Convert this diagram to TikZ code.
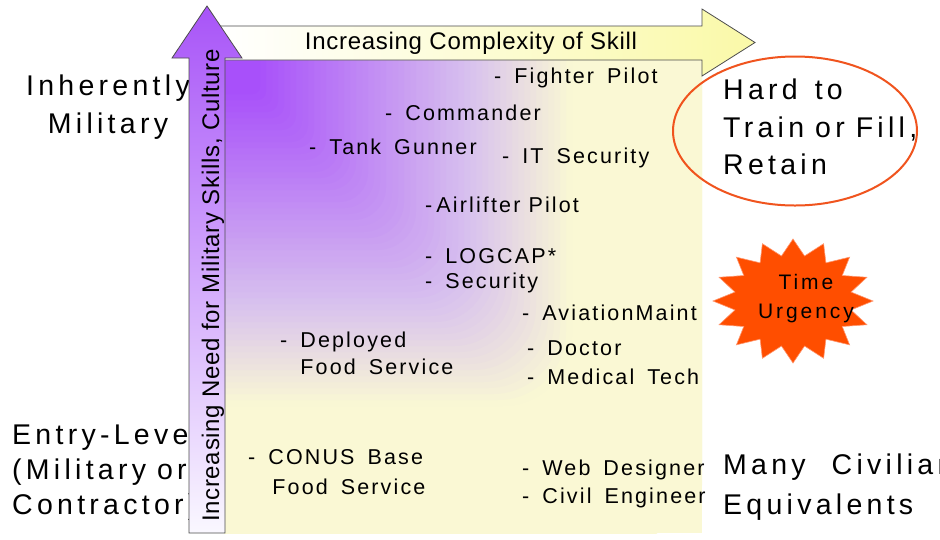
\documentclass[tikz,border=0pt]{standalone}
\usepackage{fontspec}
\setmainfont{Liberation Sans}
\newfontfamily\itemfont[LetterSpace=10]{Liberation Sans}
\newfontfamily\bigfont[LetterSpace=15]{Liberation Sans}
\newfontfamily\urgfont[LetterSpace=14]{Liberation Sans}
\newfontfamily\arrowfont[LetterSpace=3]{Liberation Sans}
\definecolor{milpurple}{RGB}{168,80,250}
\definecolor{millav}{RGB}{216,194,238}
\definecolor{milyellow}{RGB}{250,248,212}
\definecolor{arrowpurple}{RGB}{168,84,248}
\definecolor{arrowmid}{RGB}{206,168,246}
\definecolor{arrowpale}{RGB}{250,248,255}
\definecolor{arrowyellow}{RGB}{250,249,168}
\definecolor{urgent}{RGB}{255,78,0}
\definecolor{ringred}{RGB}{240,84,30}
\newcommand{\itemsize}{\itemfont\fontsize{21.5}{26.7}\selectfont\spaceskip=13pt plus 2pt\relax}
\newcommand{\tightsize}{\itemfont\fontsize{21.5}{26.7}\selectfont}
\newcommand{\bigsize}{\bigfont\fontsize{28.5}{38}\selectfont\spaceskip=11pt plus 2pt\relax}
\tikzstyle{item} = [anchor=west, inner sep=0, align=left, font=\itemsize]
\tikzstyle{tightitem} = [item, font=\tightsize]
\tikzstyle{sidelabel} = [inner sep=0, font=\bigsize]
\tikzstyle{arrowbox} = [draw=black!70, line width=0.8pt]

\begin{document}
\begin{tikzpicture}[x=1pt, y=-1pt]
\useasboundingbox (0,0) rectangle (940,539);
\fill[white] (0,0) rectangle (940,539);
\begin{scope}
\clip (224,58) rectangle (702,533);
\fill[milyellow] (224,58) rectangle (702,533);
\foreach \s in {486,480,...,6} {
  \pgfmathsetmacro\f{min(1,max(0,(\s-35)/315))}
  \pgfmathtruncatemacro\pone{100*min(1,\f/0.68)}
  \pgfmathtruncatemacro\ptwo{100*max(0,(\f-0.68)/0.32)}
  \pgfmathsetmacro\rr{0.2*\s}
  \colorlet{midband}{millav!\pone!milpurple}
  \fill[milyellow!\ptwo!midband, rounded corners=\rr pt] (224-\s,58-\s) rectangle (224+\s,58+\s);
}
\end{scope}
\node [item] (fighterpilot) at (494,78) {- Fighter Pilot};
\node [item] (commander) at (385,113) {- Commander};
\node [item] (tankgunner) at (309,147) {- Tank Gunner};
\node [item] (itsecurity) at (502,158) {- IT Security};
\node [tightitem] (airlifter) at (425,205) {-\hspace{4pt}Airlifter Pilot};
\node [item] (logcap) at (425,256) {- LOGCAP*};
\node [item] (security) at (425,283) {- Security};
\node [item] (aviation) at (522,313) {- AviationMaint};
\node [item] (deployed) at (280,353.5) {- Deployed\\\phantom{-} Food Service};
\node [item] (doctor) at (527,348) {- Doctor};
\node [item] (medicaltech) at (527,377) {- Medical Tech};
\node [item, font={\itemsize\baselineskip=30pt\relax}] (conusbase) at (248,472) {- CONUS Base\\\phantom{-} \hspace{4pt}Food Service};
\node [item] (webdesigner) at (522,470) {- Web Designer};
\node [item] (civilengineer) at (522,498) {- Civil Engineer};
\node [sidelabel, align=center] (inherently) at (108,107) {Inherently\\Military};
\node [sidelabel, anchor=west, align=left, font={\bigsize\baselineskip=35pt\relax}] (entrylevel) at (12,472) {Entry-Level\\(Military or\\Contractor)};
\path [arrowbox, left color=white, right color=arrowyellow] (220,26) -- (702,26) -- (702,9) -- (755,42.5) -- (702,76) -- (702,60) -- (220,60) -- cycle;
\node [font=\arrowfont\fontsize{24}{28}\selectfont, inner sep=0] (complexity) at (471,43) {Increasing Complexity of Skill};
\path [arrowbox, top color=arrowpurple, middle color=arrowmid, bottom color=arrowpale] (189,533) -- (189,58) -- (172,58) -- (207,6) -- (242,58) -- (225,58) -- (225,533) -- cycle;
\node [font=\arrowfont\fontsize{24}{28}\selectfont, inner sep=0, rotate=90] (militaryneed) at (213,285.5) {Increasing Need for Military Skills, Culture};
\draw [ringred, line width=2pt] (795,131) ellipse (122pt and 74.5pt);
\node [sidelabel, anchor=west, align=left, font={\bigsize\baselineskip=37.5pt\relax}] (hardtotrain) at (723,127) {Hard\hspace{6pt} to\\Train or Fill,\\Retain};
\node [sidelabel, anchor=west, align=left, font={\bigsize\baselineskip=40pt\relax}] (civilian) at (723,487) {Many\hspace{15pt} Civilian\\Equivalents};
\fill [urgent, draw={rgb,255:red,255;green,150;blue,110}, line width=0.6pt] (793,239) \foreach \i in {1,...,31} { -- ({793+80*(0.87+0.13*cos(180*\i))*cos(90+11.25*\i)}, {301-62*(0.87+0.13*cos(180*\i))*sin(90+11.25*\i)}) } -- cycle;
\node [align=center, inner sep=0, font=\urgfont\fontsize{21}{29}\selectfont] (timeurgency) at (806,298.5) {Time\\Urgency};
\end{tikzpicture}
\end{document}
